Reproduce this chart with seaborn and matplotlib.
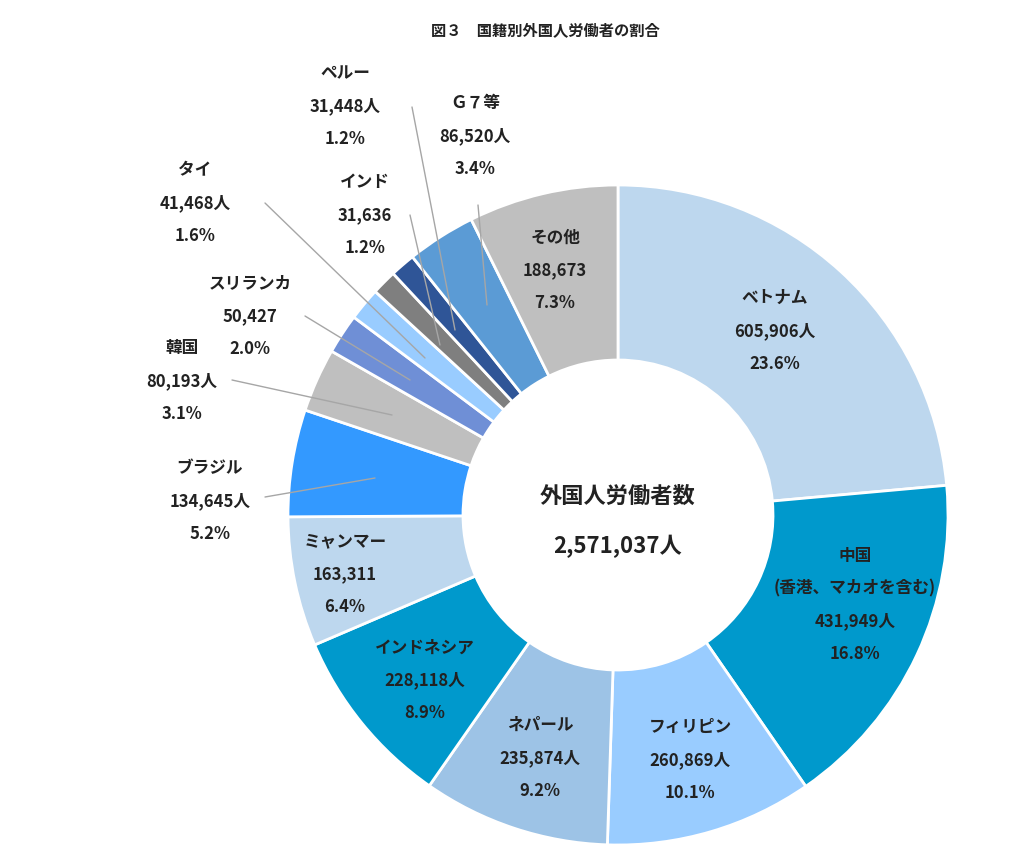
import matplotlib
matplotlib.use("Agg")
import matplotlib.pyplot as plt
import seaborn as sns

sns.set_theme(style="white")
plt.rcParams['font.family'] = ['Noto Sans CJK JP', 'DejaVu Sans']

countries = ["ベトナム", "中国\n(香港、マカオを含む)", "フィリピン", "ネパール", "インドネシア", "ミャンマー",
             "ブラジル", "韓国", "スリランカ", "タイ", "ペルー", "インド", "Ｇ７等", "その他"]
values = [605906, 431949, 260869, 235874, 228118, 163311, 134645, 80193, 50427, 41468, 31448, 31636, 86520, 188673]
value_labels = ["605,906人", "431,949人", "260,869人", "235,874人", "228,118人", "163,311", "134,645人",
                "80,193人", "50,427", "41,468人", "31,448人", "31,636", "86,520人", "188,673"]
pct_labels = ["23.6%", "16.8%", "10.1%", "9.2%", "8.9%", "6.4%", "5.2%", "3.1%", "2.0%", "1.6%",
              "1.2%", "1.2%", "3.4%", "7.3%"]
colors = ["#BDD7EE", "#0099CC", "#99CCFF", "#9DC3E6", "#0099CC", "#BDD7EE", "#3399FF", "#BFBFBF",
          "#6F8FD6", "#99CCFF", "#7F7F7F", "#2F5597", "#5B9BD5", "#BFBFBF"]
total_label = "2,571,037人"

W, H = 1035, 847
fig = plt.figure(figsize=(W / 100, H / 100), dpi=100)
ax = fig.add_axes([0, 0, 1, 1])
ax.set_xlim(0, W)
ax.set_ylim(0, H)
ax.set_aspect('equal')
ax.axis('off')

cx, cy, R = 618, H - 515, 330
ax.pie(values, colors=colors, startangle=90, counterclock=False, center=(cx, cy), radius=R,
       wedgeprops=dict(width=R - 155, edgecolor='white', linewidth=2), frame=True)
ax.set_xlim(0, W)
ax.set_ylim(0, H)
ax.axis('off')

# label block centers (pixel, from top)
pos = [(775, 331), (855, 605), (690, 760), (540, 758), (425, 680), (345, 574), (210, 501),
       (182, 381), (250, 316), (195, 203), (345, 106), (365, 215), (475, 136), (555, 270)]
leaders = {6: ((265, 497), (375, 478)), 7: ((232, 380), (392, 415)), 8: ((305, 316), (410, 380)),
           9: ((265, 203), (425, 358)), 10: ((412, 107), (455, 330)), 11: ((410, 215), (440, 345)),
           12: ((478, 205), (487, 305))}
for i, (c, v, p) in enumerate(zip(countries, value_labels, pct_labels)):
    x, y = pos[i]
    ax.text(x, H - y, f"{c}\n{v}\n{p}", ha='center', va='center', fontsize=12,
            fontweight='bold', linespacing=2.05, color='#222222')
for i, ((x0, y0), (x1, y1)) in leaders.items():
    ax.plot([x0, x1], [H - y0, H - y1], color='#A6A6A6', lw=1)

ax.text(cx, H - 496, "外国人労働者数", ha='center', va='center', fontsize=16, fontweight='bold', color='#222222')
ax.text(cx, H - 546, total_label, ha='center', va='center', fontsize=16, fontweight='bold', color='#222222')
ax.text(545, H - 30, "図３　国籍別外国人労働者の割合", ha='center', va='center', fontsize=11,
        fontweight='bold', color='#222222')

fig.savefig("out.png", dpi=100, facecolor='white')
